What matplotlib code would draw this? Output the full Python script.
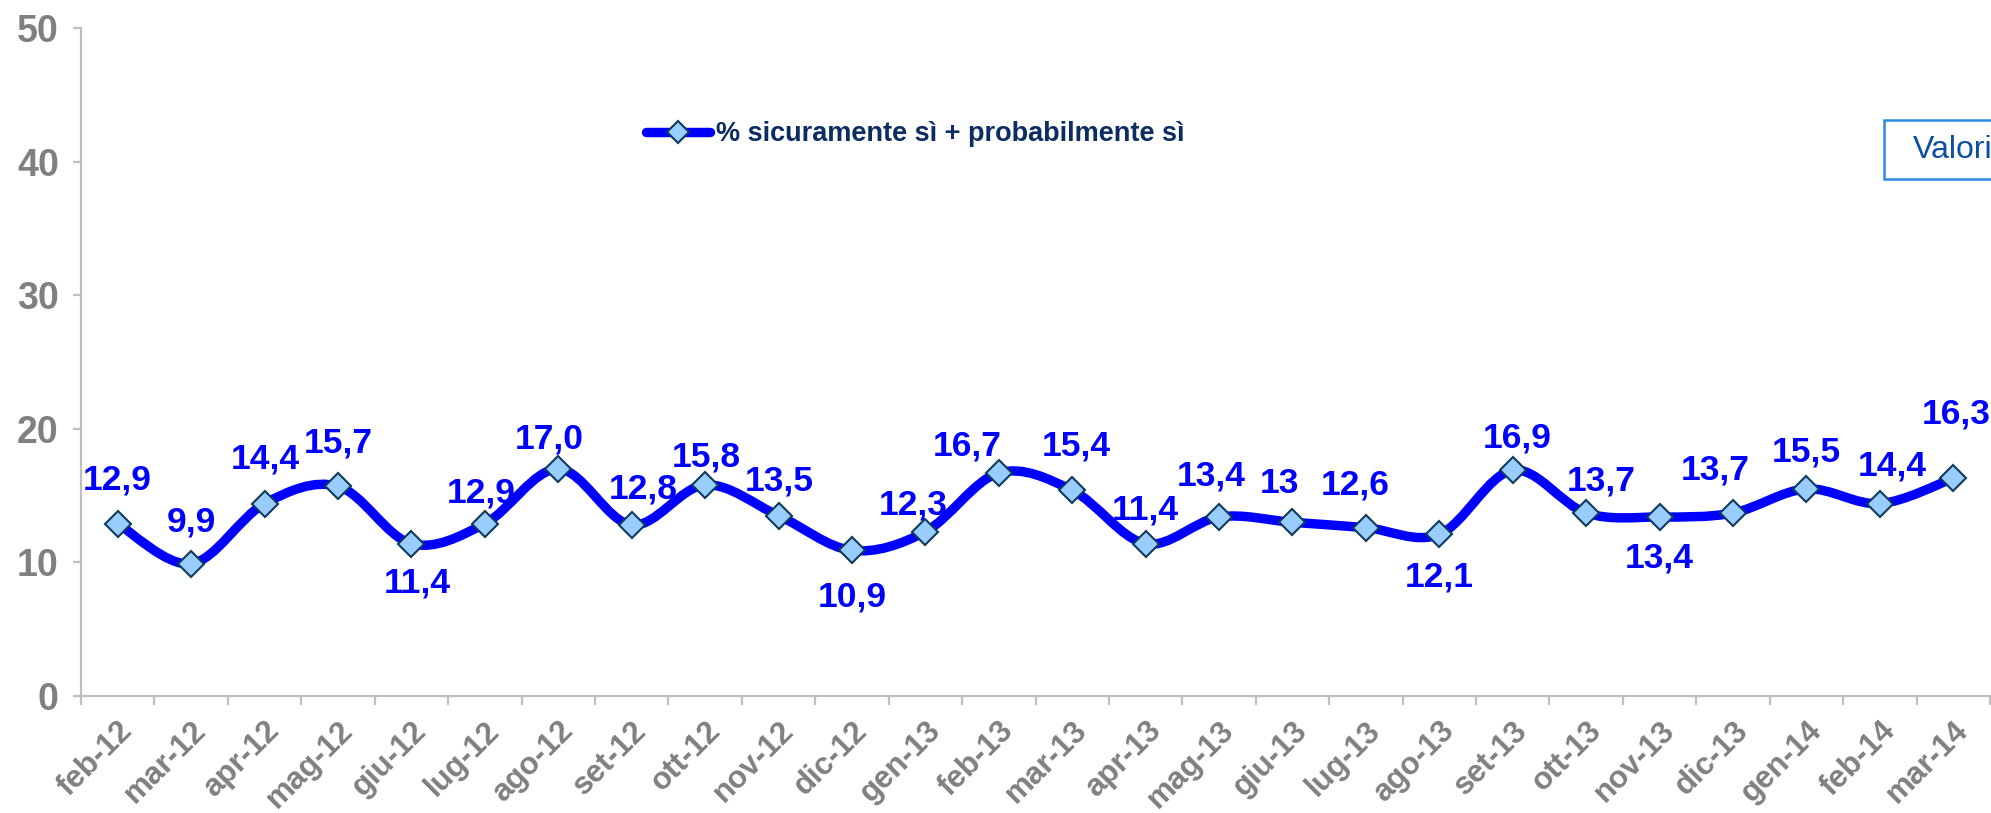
import numpy as np
import matplotlib
matplotlib.use("Agg")
import matplotlib.pyplot as plt
from matplotlib.path import Path
from matplotlib.patches import PathPatch, Rectangle
from matplotlib.lines import Line2D

# ---------------- data ----------------
months = ["feb-12", "mar-12", "apr-12", "mag-12", "giu-12", "lug-12", "ago-12",
          "set-12", "ott-12", "nov-12", "dic-12", "gen-13", "feb-13", "mar-13",
          "apr-13", "mag-13", "giu-13", "lug-13", "ago-13", "set-13", "ott-13",
          "nov-13", "dic-13", "gen-14", "feb-14", "mar-14"]
values = [12.9, 9.9, 14.4, 15.7, 11.4, 12.9, 17.0, 12.8, 15.8, 13.5, 10.9, 12.3,
          16.7, 15.4, 11.4, 13.4, 13.0, 12.6, 12.1, 16.9, 13.7, 13.4, 13.7, 15.5,
          14.4, 16.3]
value_labels = ["12,9", "9,9", "14,4", "15,7", "11,4", "12,9", "17,0", "12,8",
                "15,8", "13,5", "10,9", "12,3", "16,7", "15,4", "11,4", "13,4",
                "13", "12,6", "12,1", "16,9", "13,7", "13,4", "13,7", "15,5",
                "14,4", "16,3"]
series_name = "% sicuramente sì + probabilmente sì"
y_ticks = [0, 10, 20, 30, 40, 50]

# ---------------- styling / layout ----------------
# label offsets from point in pixels (dx, dy; dy>0 = above)
label_offsets_px = [(0, 44), (0, 42), (1, 45), (0, 43), (6, -39), (-4, 31),
                    (-9, 30), (12, 36), (1, 28), (1, 35), (0, -47), (-12, 27),
                    (-32, 27), (4, 44), (0, 34), (-8, 41), (-13, 39), (-11, 43),
                    (0, -43), (4, 32), (15, 32), (0, -41), (-18, 43), (0, 37),
                    (12, 38), (3, 64)]

W, H, DPI = 1991, 813, 100
PX = 72.0 / DPI  # points per pixel

FONT = "Liberation Sans"
plt.rcParams["font.family"] = [FONT, "DejaVu Sans"]

LINE_C = "#0000FF"
MFACE = "#99CCFF"
MEDGE = "#0E3A5C"
GRAY = "#808080"
SPINE = "#BFBFBF"

fig = plt.figure(figsize=(W / DPI, H / DPI), dpi=DPI)
fig.patch.set_facecolor("white")
ax = fig.add_axes([81 / W, 1 - 696 / H, (1990 - 81) / W, (696 - 28) / H])

n = len(values)
x = np.arange(n)
y = np.array(values, dtype=float)

# smoothed line (Catmull-Rom -> cubic Bezier), like Excel's smooth line
verts = [(x[0], y[0])]
codes = [Path.MOVETO]
for i in range(n - 1):
    p0 = np.array([x[max(i - 1, 0)], y[max(i - 1, 0)]])
    p1 = np.array([x[i], y[i]])
    p2 = np.array([x[i + 1], y[i + 1]])
    p3 = np.array([x[min(i + 2, n - 1)], y[min(i + 2, n - 1)]])
    c1 = p1 + (p2 - p0) / 6.0
    c2 = p2 - (p3 - p1) / 6.0
    verts += [tuple(c1), tuple(c2), tuple(p2)]
    codes += [Path.CURVE4, Path.CURVE4, Path.CURVE4]
curve = PathPatch(Path(verts, codes), facecolor="none", edgecolor=LINE_C,
                  lw=6.8, capstyle="round", joinstyle="round", zorder=3)
ax.add_patch(curve)

ax.plot(x, y, linestyle="none", marker="D", ms=13, mfc=MFACE, mec=MEDGE,
        mew=1.5, zorder=4)

for xi, yi, lab, (dx, dy) in zip(x, y, value_labels, label_offsets_px):
    ax.annotate(lab, (xi, yi), xytext=(dx * PX, dy * PX),
                textcoords="offset points", ha="center", va="center",
                fontsize=25.5, fontweight="bold", color=LINE_C, zorder=5,
                annotation_clip=False)

ax.set_xlim(-0.5, n - 0.5)
ax.set_ylim(0, 50)
ax.set_yticks(y_ticks)
ax.set_yticklabels([str(t) for t in y_ticks])
ax.set_xticks(x)
ax.set_xticklabels(months)
ax.set_xticks(np.arange(n + 1) - 0.5, minor=True)

for side in ["top", "right"]:
    ax.spines[side].set_visible(False)
for side in ["left", "bottom"]:
    ax.spines[side].set_color(SPINE)
    ax.spines[side].set_linewidth(1.6)

ax.tick_params(axis="y", which="major", direction="out", length=6,
               width=1.6, color=SPINE, pad=10, labelsize=27, labelcolor=GRAY)
ax.tick_params(axis="x", which="major", length=0, pad=14, labelsize=22.5,
               labelcolor=GRAY)
ax.tick_params(axis="x", which="minor", direction="out", length=6.5,
               width=1.6, color=SPINE)
for t in ax.get_yticklabels():
    t.set_fontweight("bold")
for t in ax.get_xticklabels():
    t.set_fontweight("bold")
    t.set_rotation(45)
    t.set_ha("right")
    t.set_va("top")
    t.set_rotation_mode("anchor")

# legend
handle = Line2D([], [], color=LINE_C, lw=6.8, marker="D", ms=11,
                mfc=MFACE, mec=MEDGE, mew=1.5, solid_capstyle="round")
leg = ax.legend([handle], [series_name], loc="center left",
                bbox_to_anchor=(646 / W, 1 - 134 / H),
                bbox_transform=fig.transFigure, frameon=False,
                borderpad=0, borderaxespad=0, handlelength=2.35,
                handletextpad=0.25, markerscale=1.0,
                prop={"family": FONT, "weight": "bold", "size": 19.5})
for txt in leg.get_texts():
    txt.set_color("#0B2D64")

# "Valori" box (cut by the right border)
fig.patches.append(Rectangle((1884 / W, 1 - 179 / H), 200 / W, 59 / H,
                             transform=fig.transFigure, facecolor="white",
                             edgecolor="#2A8AE0", lw=1.8, zorder=5))
fig.text(1913 / W, 1 - 150 / H, "Valori", ha="left", va="center",
         fontsize=23, color="#0B4EA2", zorder=6)

fig.savefig("out.png", dpi=DPI, facecolor="white")
